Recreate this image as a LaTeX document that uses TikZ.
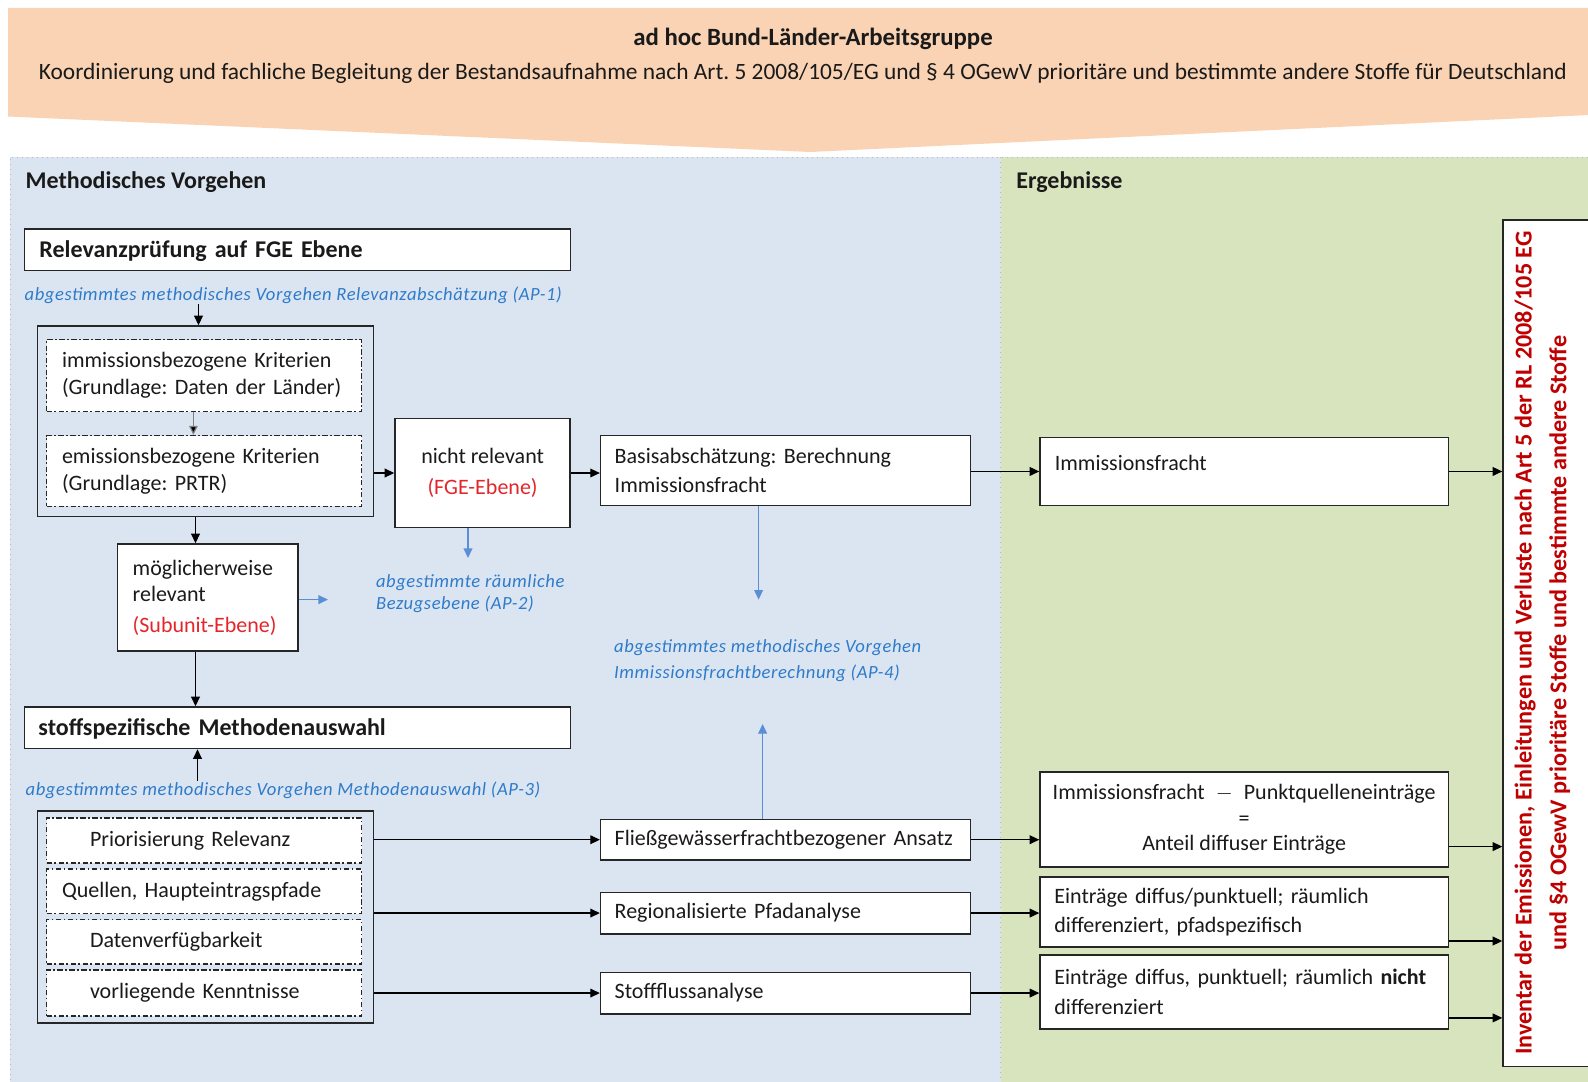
\documentclass[tikz,border=0pt]{standalone}
\usepackage{fontspec}
\setmainfont{Carlito}
\newfontfamily\apfont[LetterSpace=3]{Carlito}
\usetikzlibrary{arrows.meta,calc}
\definecolor{peach}{HTML}{F9D3B3}
\definecolor{bluebg}{HTML}{DBE5F1}
\definecolor{greenbg}{HTML}{D7E4BD}
\definecolor{aptext}{HTML}{2E7BCB}
\definecolor{aparrow}{HTML}{5A8ED6}
\definecolor{redtxt}{HTML}{E3262B}
\definecolor{invred}{HTML}{C00000}
\definecolor{boxline}{HTML}{262626}
\definecolor{bodytxt}{HTML}{1A1A1A}
\frenchspacing
\newcommand\fsz{\fontsize{11pt}{13.3pt}\selectfont}
\newcommand\fszw{\fontsize{11pt}{14.7pt}\selectfont}
\newcommand\hsz{\fontsize{12pt}{14pt}\selectfont\bfseries}
\newcommand\apsz{\fontsize{9.3pt}{11.3pt}\selectfont\apfont\itshape}
\begin{document}
\begin{tikzpicture}[x=0.5pt,y=-0.5pt,
  box/.style={draw=boxline, line width=0.75pt, fill=white, inner ysep=0pt, font=\fsz, text=bodytxt},
  outer/.style={draw=boxline, line width=0.75pt, inner sep=0pt},
  ddbox/.style={draw=boxline, line width=0.6pt, fill=white, inner ysep=0pt, font=\fsz, text=bodytxt,
     dash pattern=on 2.6pt off 1.3pt on 0.8pt off 1.3pt, align=left},
  txt/.style={inner sep=0pt, font=\fsz, anchor=west, text=bodytxt},
  aptxt/.style={inner sep=0pt, font=\apsz, text=aptext, anchor=west, align=left},
  arr/.style={draw=black, line width=0.6pt, -{Triangle[length=4.8pt,width=4.4pt]}},
  garr/.style={draw=gray, line width=0.6pt, -{Triangle[length=4.5pt,width=4.2pt,fill=black]}},
  barr/.style={draw=aparrow, line width=0.6pt, -{Triangle[length=4.8pt,width=4.4pt]}},
  panelborder/.style={draw=gray!55, dotted, line width=0.5pt}
]
\useasboundingbox (0,0) rectangle (1588,1081);
\clip (0,0) rectangle (1588,1081);
% banner
\fill[peach] (8,8) -- (1600,8) -- (1600,114.5) -- (810,152) -- (8,116.5) -- cycle;
\node[inner sep=0pt, font=\fontsize{12.4pt}{14pt}\selectfont\bfseries, text=bodytxt] (title) at (813,39) {ad hoc Bund-Länder-Arbeitsgruppe};
\node[txt, font=\fontsize{11.7pt}{14pt}\selectfont] (sub) at (38.5,73.5) {Koordinierung und fachliche Begleitung der Bestandsaufnahme nach Art. 5 2008/105/EG und § 4 OGewV prioritäre und bestimmte andere Stoffe für Deutschland};
% panels
\fill[bluebg] (10,157) rectangle (1000.6,1090);
\fill[greenbg] (1000.6,157) rectangle (1600,1090);
\draw[panelborder] (10,1090) -- (10,157) -- (1600,157);
\draw[panelborder] (1000.6,157) -- (1000.6,1090);
\node[txt, font=\hsz] (meth) at (25.3,182.5) {Methodisches Vorgehen};
\node[txt, font=\hsz] (erg) at (1016,182.5) {Ergebnisse};

% left column top
\node[box, minimum width=273pt, minimum height=20.7pt, inner xsep=7.6pt, text width=257.8pt, align=left, font=\hsz, text height=9.6pt, text depth=1.6pt]
  (rel) at (297.25,249.7) {Relevanzprüfung auf FGE Ebene};
\node[aptxt] (ap1) at (24.3,295.5) {abgestimmtes methodisches Vorgehen Relevanzabschätzung (AP-1)};
\node[outer, minimum width=168.1pt, minimum height=95.25pt] (o1) at (205.6,421.25) {};
\node[ddbox, minimum width=157.5pt, minimum height=36pt, inner xsep=7.7pt, text width=142.1pt]
  (ka) at (204.1,375.5) {immissionsbezogene Kriterien\\(Grundlage: Daten der Länder)};
\node[ddbox, minimum width=157.5pt, minimum height=35.45pt, inner xsep=7.7pt, text width=142.1pt]
  (kb) at (204.1,471) {emissionsbezogene Kriterien\\(Grundlage: PRTR)};
\node[box, minimum width=87.6pt, minimum height=54.7pt, inner xsep=2pt, align=center]
  (nr) at (482.6,473) {nicht relevant\\[2.5pt]\textcolor{redtxt}{(FGE-Ebene)}};
\node[box, minimum width=184.85pt, minimum height=34.95pt, inner xsep=7.05pt, text width=170.75pt, align=left, font=\fszw]
  (basis) at (785.45,470.45) {Basisabschätzung: Berechnung\\Immissionsfracht};
\node[box, minimum width=90.15pt, minimum height=53.6pt, inner xsep=7.6pt, text width=74.95pt, align=left]
  (mog) at (207.65,597.6) {möglicherweise\\relevant\\[2pt]\textcolor{redtxt}{(Subunit-Ebene)}};
\node[aptxt] (ap2) at (375.7,593.5) {abgestimmte räumliche\\Bezugsebene (AP-2)};
\node[aptxt, font=\fontsize{9.3pt}{12.75pt}\selectfont\apfont\itshape] (ap4) at (613.8,660.5) {abgestimmtes methodisches Vorgehen\\Immissionsfrachtberechnung (AP-4)};
\node[box, minimum width=273pt, minimum height=20.75pt, inner xsep=7.1pt, text width=258.8pt, align=left, font=\hsz, text height=9.6pt, text depth=1.6pt]
  (stoff) at (297.25,727.75) {stoffspezifische Methodenauswahl};
\node[aptxt] (ap3) at (25.3,790) {abgestimmtes methodisches Vorgehen Methodenauswahl (AP-3)};

% criteria box 2
\node[outer, minimum width=168.1pt, minimum height=106pt] (o2) at (205.6,917) {};
\node[ddbox, minimum width=157.5pt, minimum height=22.5pt, inner xsep=21.7pt, text width=114.1pt] (p1) at (204.1,840.5) {Priorisierung Relevanz};
\node[ddbox, minimum width=157.5pt, minimum height=22.25pt, inner xsep=7.7pt, text width=142.1pt] (p2) at (204.1,891.25) {Quellen, Haupteintragspfade};
\node[ddbox, minimum width=157.5pt, minimum height=22.2pt, inner xsep=21.7pt, text width=114.1pt] (p3) at (204.1,941.8) {Datenverfügbarkeit};
\node[ddbox, minimum width=157.5pt, minimum height=23pt, inner xsep=21.7pt, text width=114.1pt] (p4) at (204.1,993) {vorliegende Kenntnisse};

% method boxes
\node[box, minimum width=184.85pt, minimum height=20.3pt, inner xsep=7.05pt, text width=170.75pt, align=left] (fl) at (785.45,839.7) {Fließgewässerfrachtbezogener Ansatz};
\node[box, minimum width=184.85pt, minimum height=20.75pt, inner xsep=7.05pt, text width=170.75pt, align=left] (rp) at (785.45,913.05) {Regionalisierte Pfadanalyse};
\node[box, minimum width=184.85pt, minimum height=20.75pt, inner xsep=7.05pt, text width=170.75pt, align=left] (sf) at (785.45,993.05) {Stoffflussanalyse};

% results
\node[box, minimum width=204.15pt, minimum height=33.95pt] (imm) at (1244.15,471.45) {};
\node[txt] (immt) at (1054.4,462.5) {Immissionsfracht};
\node[box, minimum width=204.15pt, minimum height=47.6pt, align=center, font=\fontsize{11pt}{12.9pt}\selectfont] (r2) at (1244.15,819.4)
  {Immissionsfracht\enspace$-$\enspace Punktquelleneinträge\\=\\Anteil diffuser Einträge};
\node[box, minimum width=204.15pt, minimum height=35pt, inner xsep=7.2pt, text width=189.75pt, align=left, font=\fszw] (r3) at (1244.15,912)
  {Einträge diffus/punktuell; räumlich\\differenziert, pfadspezifisch};
\node[box, minimum width=204.15pt, minimum height=37pt, inner xsep=7.2pt, text width=189.75pt, align=left, font=\fszw] (r4) at (1244.15,992)
  {Einträge diffus, punktuell; räumlich \textbf{nicht}\\differenziert};
\node[box, minimum width=48.5pt, minimum height=423.35pt] (inv) at (1551.5,643.15) {};
\node[inner sep=0pt, rotate=90, align=center, text=invred, font=\fontsize{12.1pt}{17.35pt}\selectfont\bfseries] (invt) at (1542.4,643)
  {Inventar der Emissionen, Einleitungen und Verluste nach Art 5 der RL 2008/105 EG\\und §4 OGewV prioritäre Stoffe und bestimmte andere Stoffe};

% coordinates for vertical connectors
\coordinate (x1) at (198.5,0);
\coordinate (x2) at (193.4,0);
\coordinate (x3) at (195.5,0);
\coordinate (x4) at (197.5,0);
\coordinate (x5) at (468,0);
\coordinate (x6) at (758.6,0);
\coordinate (x7) at (762.6,0);
\coordinate (ap2end) at (328,599.6);
\coordinate (ap4top) at (758.6,599.6);
\coordinate (ap4bot) at (762.6,724);
\coordinate (ap2top) at (468,558);

% black arrows
\draw[arr] (ap1.south -| x1) -- (o1.north -| x1);
\draw[garr] (ka.south -| x2) -- (kb.north -| x2);
\draw[arr] (o1.east |- nr) -- (nr.west);
\draw[arr] (nr.east) -- (nr.east -| basis.west);
\draw[arr] (basis.east |- imm) -- (imm.west);
\draw[arr] (imm.east) -- (imm.east -| inv.west);
\draw[arr] (o1.south -| x3) -- (mog.north -| x3);
\draw[arr] (mog.south -| x3) -- (stoff.north -| x3);
\draw[arr] (ap3.north -| x4) -- (stoff.south -| x4);
\draw[arr] (o2.east |- fl) -- (fl.west);
\draw[arr] (o2.east |- rp) -- (rp.west);
\draw[arr] (o2.east |- sf) -- (sf.west);
\draw[arr] (fl.east) -- (fl.east -| r2.west);
\draw[arr] (rp.east) -- (rp.east -| r3.west);
\draw[arr] (sf.east) -- (sf.east -| r4.west);
\draw[arr] ([yshift=-13.6pt]r2.east) -- ([yshift=-13.6pt]r2.east -| inv.west);
\draw[arr] ([yshift=-14.5pt]r3.east) -- ([yshift=-14.5pt]r3.east -| inv.west);
\draw[arr] ([yshift=-12.95pt]r4.east) -- ([yshift=-12.95pt]r4.east -| inv.west);

% blue arrows
\draw[barr] (nr.south -| x5) -- (ap2top);
\draw[barr] (mog.east |- ap2end) -- (ap2end);
\draw[barr] (basis.south -| x6) -- (ap4top);
\draw[barr] (fl.north -| x7) -- (ap4bot);
\end{tikzpicture}
\end{document}
